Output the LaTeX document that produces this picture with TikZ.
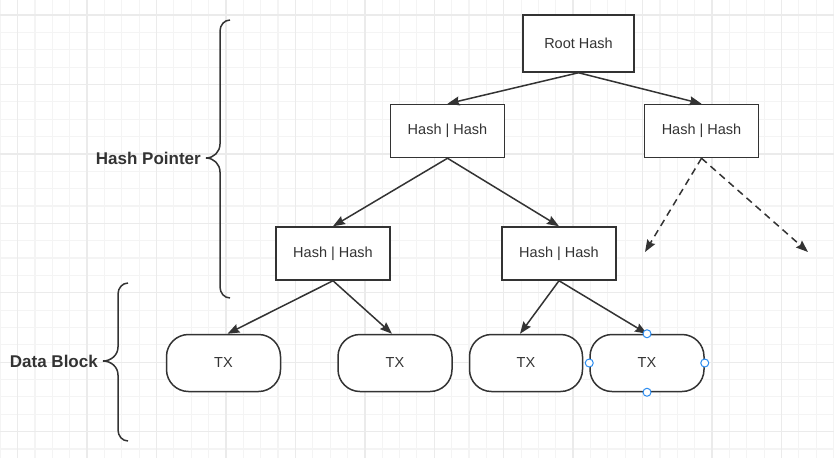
\documentclass[tikz,border=0pt]{standalone}
\usepackage{fontspec}
\setmainfont{Liberation Sans}
\usetikzlibrary{positioning,shapes,arrows.meta}
\definecolor{ink}{HTML}{333333}
\definecolor{gridline}{HTML}{F4F4F4}
\definecolor{gridmajor}{HTML}{EBEBEB}
\definecolor{handle}{HTML}{2B8CF0}

\begin{document}
\begin{tikzpicture}[
  x=1pt,y=-1pt,
  node distance=31pt and 17pt,
  hashnode/.style={draw=ink,line width=1.5pt,fill=white,minimum width=114pt,minimum height=53pt,inner sep=0pt,text=ink,font=\fontsize{14.5}{17}\selectfont},
  txnode/.style={hashnode,rounded corners=22pt,minimum height=57pt},
  bracelabel/.style={inner sep=0pt,text=ink,font=\bfseries\fontsize{17}{20}\selectfont},
  link/.style={draw=ink,line width=1.5pt,-{Stealth[length=12pt,width=9pt,inset=1.5pt]}},
  curly/.style={draw=ink,line width=1.5pt},
  gridminor/.style={draw=gridline,line width=1.1pt},
  gridbold/.style={draw=gridmajor,line width=1.4pt},
  handledot/.style={draw=handle,fill=white,line width=1pt}
]
\useasboundingbox (0,0) rectangle (834,458);
% background grid
\foreach \i in {0,...,48} \draw[gridminor] ({0.26+17.36*\i},0) -- ++(0,458);
\foreach \j in {-1,...,26} \draw[gridminor] (0,{15+17.36*\j}) -- ++(834,0);
\foreach \i in {1,5,...,45} \draw[gridbold] ({0.26+17.36*\i},0) -- ++(0,458);
\foreach \j in {0,4,...,24} \draw[gridbold] (0,{15+17.36*\j}) -- ++(834,0);

% hash tree
\node[hashnode,minimum width=111pt,minimum height=57pt] (root) at (578.5,43.5) {Root Hash};
\node[hashnode,below left=31pt and 17pt of root] (h1) {Hash | Hash};
\node[hashnode,below right=31pt and 9pt of root] (h2) {Hash | Hash};
\node[hashnode,below left=68pt and -1pt of h1] (h3) {Hash | Hash};
\node[hashnode,below right=68pt and -4pt of h1] (h4) {Hash | Hash};
\node[txnode,below left=53pt and -6pt of h3] (tx1) {TX};
\node[txnode,right=56pt of tx1] (tx2) {TX};
\node[txnode,right=16pt of tx2,minimum width=113pt] (tx3) {TX};
\node[txnode,right=6pt of tx3] (tx4) {TX};
\coordinate (d1) at (645,252);
\coordinate (d2) at (808,252);

\path (root.south) edge[link] (h1.north)
(root.south) edge[link] (h2.north)
(h1.south) edge[link] (h3.north)
(h1.south) edge[link] (h4.north)
(h3.south) edge[link] ([xshift=4pt]tx1.north)
(h3.south) edge[link] ([xshift=-3pt]tx2.north)
(h4.south) edge[link] ([xshift=-6pt]tx3.north)
(h4.south) edge[link] (tx4.north)
(h2.south) edge[link,dash pattern=on 7pt off 5pt] (d1)
(h2.south) edge[link,dash pattern=on 7pt off 5pt] (d2);

% selection handles
\foreach \a in {north,south,east,west} \draw[handledot] (tx4.\a) circle (4pt);

% braces
\coordinate (tip1) at (206,158);
\coordinate (tip2) at (103,361);
\draw[curly] (230,20) to[out=180,in=90] (220,31) -- (220,144) to[out=-90,in=0] (tip1)
  to[out=0,in=90] (220,172) -- (220,287) to[out=-90,in=180] (230,298);
\draw[curly] (128,283) to[out=180,in=90] (118,294) -- (118,347) to[out=-90,in=0] (tip2)
  to[out=0,in=90] (118,375) -- (118,430) to[out=-90,in=180] (128,441);
\node[bracelabel,left=5pt of tip1] (hp) {Hash Pointer};
\node[bracelabel,left=5pt of tip2] (db) {Data Block};
\end{tikzpicture}
\end{document}
